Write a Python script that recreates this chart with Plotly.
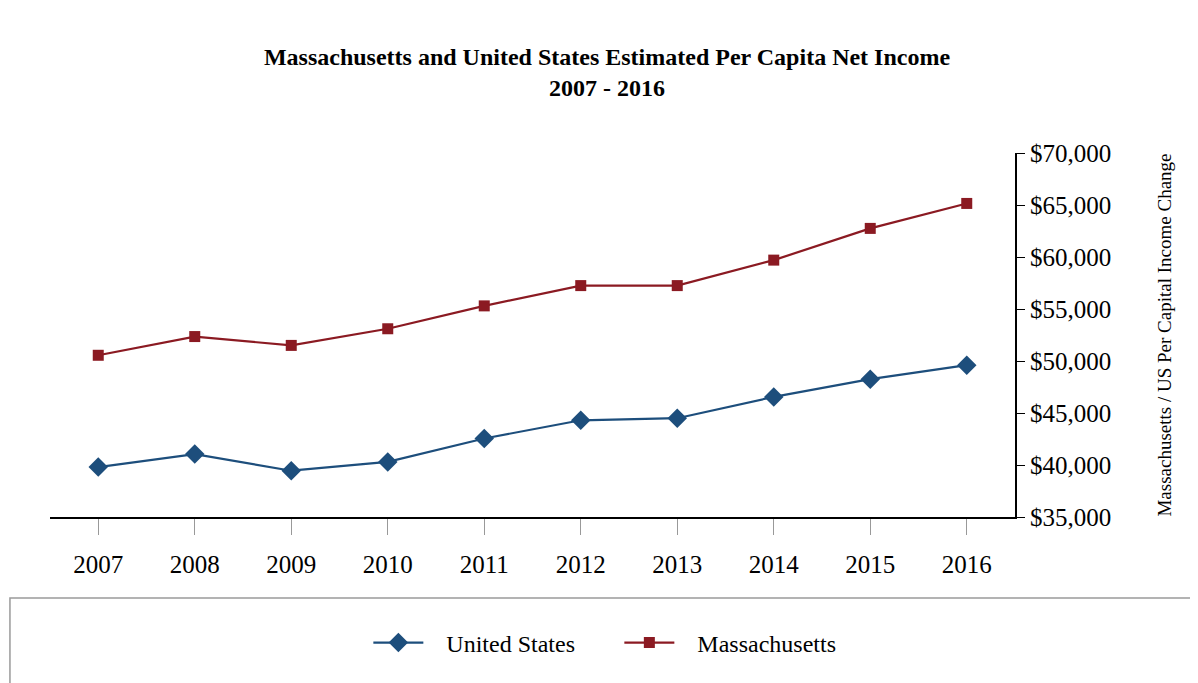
import plotly.graph_objects as go

years = ["2007", "2008", "2009", "2010", "2011", "2012", "2013", "2014", "2015", "2016"]
us_income = [39800, 41050, 39450, 40300, 42550, 44300, 44500, 46550, 48250, 49600]
ma_income = [50550, 52350, 51500, 53100, 55300, 57250, 57250, 59700, 62750, 65150]

US_COLOR = "#1d4e7c"
MA_COLOR = "#8b1a22"
FONT = "Liberation Serif"
PAD = "\u00a0\u00a0\u00a0"

fig = go.Figure()
fig.add_trace(go.Scatter(
    x=years, y=us_income, name=PAD + "United States", mode="lines+markers",
    line=dict(color=US_COLOR, width=2.2),
    marker=dict(symbol="diamond", size=15, color=US_COLOR),
))
fig.add_trace(go.Scatter(
    x=years, y=ma_income, name=PAD + "Massachusetts", mode="lines+markers",
    line=dict(color=MA_COLOR, width=2.2),
    marker=dict(symbol="square", size=11, color=MA_COLOR),
))

fig.update_layout(
    width=1198, height=683,
    paper_bgcolor="white", plot_bgcolor="white",
    margin=dict(l=42, r=191, t=145, b=174),
    font=dict(family=FONT, color="black"),
    title=dict(
        text="<b>Massachusetts and United States Estimated Per Capita Net Income<br>2007 - 2016</b>",
        x=599 / 1198, xanchor="center", xref="container",
        y=1 - 57 / 683, yanchor="top", yref="container",
        font=dict(family=FONT, size=24, color="black"),
    ),
    showlegend=True,
    legend=dict(
        orientation="h", x=0.590, xanchor="center", y=-0.346, yanchor="middle",
        font=dict(family=FONT, size=24, color="black"),
        bgcolor="rgba(0,0,0,0)", itemwidth=50, entrywidth=186,
    ),
    shapes=[dict(
        type="rect", xref="paper", yref="paper",
        x0=-0.0415, x1=1.2, y0=-0.47, y1=-0.2225,
        line=dict(color="#9a9a9a", width=1.5), fillcolor="rgba(0,0,0,0)",
    )],
)

fig.update_xaxes(
    type="category", range=[-0.5, 9.5],
    showline=True, linecolor="black", linewidth=2,
    ticks="outside", ticklen=16, tickcolor="#999999", tickwidth=1,
    showgrid=False, zeroline=False, ticklabelstandoff=8,
    tickfont=dict(family=FONT, size=25, color="black"),
)
fig.update_yaxes(
    side="right", range=[35000, 70000], dtick=5000,
    tickprefix="$", tickformat=",d",
    showline=True, linecolor="black", linewidth=2,
    ticks="outside", ticklen=8, tickcolor="black",
    showgrid=False, zeroline=False,
    tickfont=dict(family=FONT, size=25, color="black"),
    title=dict(text="Massachusetts / US Per Capital Income Change",
               font=dict(family=FONT, size=19, color="black"), standoff=47),
)

fig.write_html("out.html")
